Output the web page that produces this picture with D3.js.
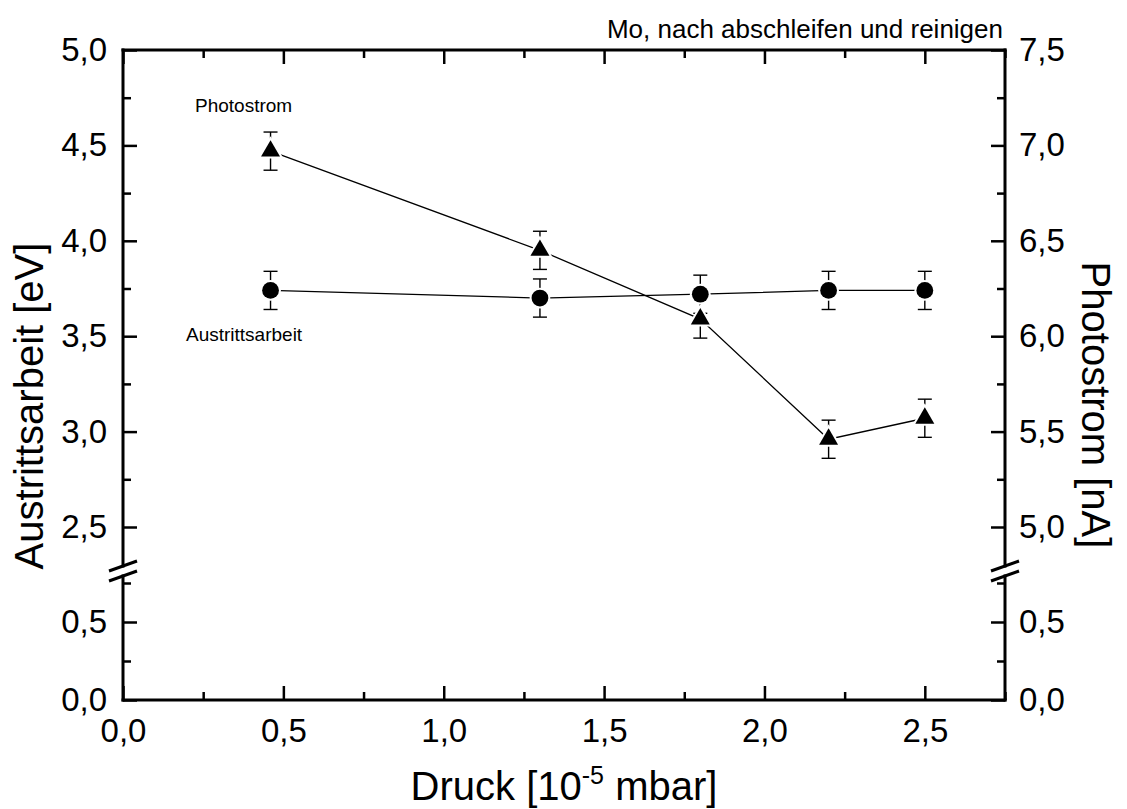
<!DOCTYPE html>
<html>
<head>
<meta charset="utf-8">
<script src="https://cdn.jsdelivr.net/npm/d3@7"></script>
<style>
  html, body { margin: 0; padding: 0; background: #fff; }
  svg { display: block; font-family: "Liberation Sans", Arial, sans-serif; }
</style>
</head>
<body>
<svg id="chart" width="1127" height="809"></svg>
<script>
// Pressure in 10^-5 mbar
const pressure = [0.46, 1.3, 1.8, 2.2, 2.5];
// Work function (Austrittsarbeit) in eV, left axis
const workFunction = [3.74, 3.70, 3.72, 3.74, 3.74];
const workFunctionErr = [0.1, 0.1, 0.1, 0.1, 0.1];
// Photocurrent (Photostrom) in nA, right axis
const photocurrent = [6.97, 6.45, 6.09, 5.46, 5.57];
const photocurrentErr = [0.1, 0.1, 0.1, 0.1, 0.1];

// Tick values
const xMajor = [0, 0.5, 1.0, 1.5, 2.0, 2.5];
const xMinor = [0.25, 0.75, 1.25, 1.75, 2.25, 2.75];
const leftUpperMajor = [2.5, 3.0, 3.5, 4.0, 4.5, 5.0];
const leftUpperMinor = [2.75, 3.25, 3.75, 4.25, 4.75];
const rightUpperMajor = [5.0, 5.5, 6.0, 6.5, 7.0, 7.5];
const rightUpperMinor = [5.25, 5.75, 6.25, 6.75, 7.25];
const lowerMajor = [0.0, 0.5];
const lowerMinor = [0.25, 0.75];

const titleText = "Mo, nach abschleifen und reinigen";
const leftTitle = "Austrittsarbeit [eV]";
const rightTitle = "Photostrom [nA]";

// Layout
const L = 123, R = 1005, T = 50, B = 700;
const breakTop = 566, breakBottom = 576;

const svg = d3.select("#chart");
const fmt = d => d.toFixed(1).replace(".", ",");

const x = d3.scaleLinear().domain([0, 2.75]).range([L, R]);
// Broken y axes: upper segment and lower segment
const yU = d3.scaleLinear().domain([2.5, 5.0]).range([527, T]);
const yRU = d3.scaleLinear().domain([5.0, 7.5]).range([527, T]);
const yL = d3.scaleLinear().domain([0, 0.5]).range([B, 622]);

function styleAxis(g, fontSize) {
  g.select(".domain").remove();
  g.selectAll(".tick line").attr("stroke", "#000").attr("stroke-width", 2.5);
  g.selectAll(".tick text").attr("fill", "#000")
    .attr("font-size", fontSize)
    .attr("font-family", "'Liberation Sans', Arial, sans-serif");
}

const tickFont = 33;
function addAxis(axis, transform, labelled) {
  const g = svg.append("g").attr("transform", transform).call(axis);
  styleAxis(g, tickFont);
  if (!labelled) g.selectAll(".tick text").remove();
  return g;
}

// Bottom axis
addAxis(d3.axisBottom(x).tickValues(xMajor).tickSize(-14).tickPadding(19).tickFormat(fmt), `translate(0,${B})`, true);
addAxis(d3.axisBottom(x).tickValues(xMinor).tickSize(-8).tickFormat(""), `translate(0,${B})`, false);
// Top axis
addAxis(d3.axisTop(x).tickValues(xMajor).tickSize(-14).tickFormat(""), `translate(0,${T})`, false);
addAxis(d3.axisTop(x).tickValues(xMinor).tickSize(-8).tickFormat(""), `translate(0,${T})`, false);

// Left axis (upper + lower)
addAxis(d3.axisLeft(yU).tickValues(leftUpperMajor).tickSize(-14).tickPadding(16).tickFormat(fmt), `translate(${L},0)`, true);
addAxis(d3.axisLeft(yU).tickValues(leftUpperMinor).tickSize(-8).tickFormat(""), `translate(${L},0)`, false);
addAxis(d3.axisLeft(yL).tickValues(lowerMajor).tickSize(-14).tickPadding(16).tickFormat(fmt), `translate(${L},0)`, true);
addAxis(d3.axisLeft(yL).tickValues(lowerMinor).tickSize(-8).tickFormat(""), `translate(${L},0)`, false);

// Right axis (upper + lower)
addAxis(d3.axisRight(yRU).tickValues(rightUpperMajor).tickSize(-14).tickPadding(14).tickFormat(fmt), `translate(${R},0)`, true);
addAxis(d3.axisRight(yRU).tickValues(rightUpperMinor).tickSize(-8).tickFormat(""), `translate(${R},0)`, false);
addAxis(d3.axisRight(yL).tickValues(lowerMajor).tickSize(-14).tickPadding(14).tickFormat(fmt), `translate(${R},0)`, true);
addAxis(d3.axisRight(yL).tickValues(lowerMinor).tickSize(-8).tickFormat(""), `translate(${R},0)`, false);

// Frame lines with axis breaks
const frame = svg.append("g").attr("stroke", "#000").attr("stroke-width", 3).attr("fill", "none").attr("stroke-linecap", "square");
frame.append("path").attr("d", `M${L},${T}H${R}`);
frame.append("path").attr("d", `M${L},${B}H${R}`);
[L, R].forEach(xx => {
  frame.append("path").attr("d", `M${xx},${T}V${breakTop}`);
  frame.append("path").attr("d", `M${xx},${breakBottom}V${B}`);
});
// Break marks
const brk = svg.append("g").attr("stroke", "#000").attr("stroke-width", 3).attr("stroke-linecap", "butt");
[L, R].forEach(xx => {
  [breakTop, breakBottom].forEach(yy => {
    brk.append("line").attr("x1", xx - 14).attr("y1", yy + 5).attr("x2", xx + 14).attr("y2", yy - 5);
  });
});

// Data series
const wfData = pressure.map((p, i) => ({ x: p, y: workFunction[i], e: workFunctionErr[i] }));
const pcData = pressure.map((p, i) => ({ x: p, y: photocurrent[i], e: photocurrentErr[i] }));

const line = (ys) => d3.line().x(d => x(d.x)).y(d => ys(d.y));

svg.append("path").datum(wfData).attr("d", line(yU)).attr("fill", "none").attr("stroke", "#000").attr("stroke-width", 1.3);
svg.append("path").datum(pcData).attr("d", line(yRU)).attr("fill", "none").attr("stroke", "#000").attr("stroke-width", 1.3);

function errorBars(data, ys) {
  const g = svg.append("g").attr("stroke", "#000").attr("stroke-width", 1.4).attr("fill", "none");
  data.forEach(d => {
    const cx = x(d.x), y1 = ys(d.y + d.e), y2 = ys(d.y - d.e);
    g.append("line").attr("x1", cx).attr("x2", cx).attr("y1", y1).attr("y2", y2);
    g.append("line").attr("x1", cx - 7).attr("x2", cx + 7).attr("y1", y1).attr("y2", y1);
    g.append("line").attr("x1", cx - 7).attr("x2", cx + 7).attr("y1", y2).attr("y2", y2);
  });
}
errorBars(wfData, yU);
errorBars(pcData, yRU);

// Markers with a thin white halo
const tri = d3.symbol().type(d3.symbolTriangle).size(156);
const mk = svg.append("g");
wfData.forEach(d => {
  mk.append("circle").attr("cx", x(d.x)).attr("cy", yU(d.y)).attr("r", 10.4).attr("fill", "#fff");
  mk.append("circle").attr("cx", x(d.x)).attr("cy", yU(d.y)).attr("r", 8.4).attr("fill", "#000");
});
pcData.forEach(d => {
  mk.append("path").attr("d", tri()).attr("transform", `translate(${x(d.x)},${yRU(d.y)})`)
    .attr("fill", "#fff").attr("stroke", "#fff").attr("stroke-width", 4);
  mk.append("path").attr("d", tri()).attr("transform", `translate(${x(d.x)},${yRU(d.y)})`)
    .attr("fill", "#000");
});

// Series labels
svg.append("text").attr("x", 195).attr("y", 112).attr("font-size", 19).text("Photostrom");
svg.append("text").attr("x", 186).attr("y", 341).attr("font-size", 19).text("Austrittsarbeit");

// Title
svg.append("text").attr("x", 1003).attr("y", 38).attr("text-anchor", "end").attr("font-size", 26).text(titleText);

// Axis titles
svg.append("text").attr("transform", "translate(43,406) rotate(-90)").attr("text-anchor", "middle")
  .attr("font-size", 40).text(leftTitle);
svg.append("text").attr("transform", "translate(1082,405) rotate(90)").attr("text-anchor", "middle")
  .attr("font-size", 40).text(rightTitle);

const xt = svg.append("text").attr("x", 564).attr("y", 800).attr("text-anchor", "middle").attr("font-size", 40);
xt.append("tspan").text("Druck [10");
xt.append("tspan").attr("font-size", 25).attr("dy", -16).text("-5");
xt.append("tspan").attr("dy", 16).text(" mbar]");
</script>
</body>
</html>
